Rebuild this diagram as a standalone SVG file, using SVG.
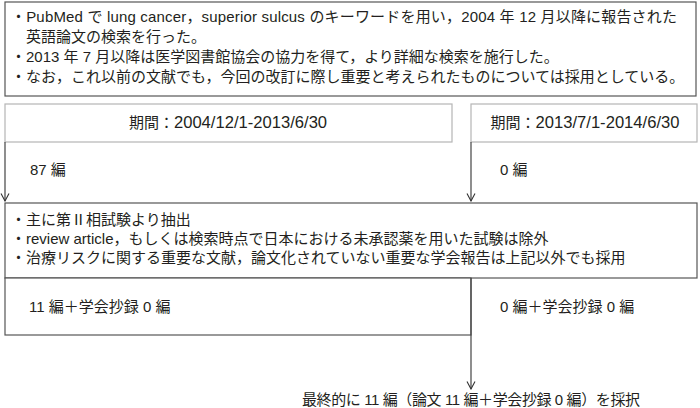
<svg xmlns="http://www.w3.org/2000/svg" width="700" height="408" viewBox="0 0 700 408">
<defs>
<marker id="arr" viewBox="0 0 10 10" refX="9.5" refY="5" markerWidth="10" markerHeight="10" markerUnits="userSpaceOnUse" orient="auto">
<path d="M2,1 L9.5,5 L2,9" fill="none" stroke="#333" stroke-width="1.1"/>
</marker>
<style>
text{font-family:"Liberation Sans","Noto Sans CJK JP",sans-serif;font-size:15px;fill:#231f20}
.box{fill:#fff;stroke:#555;stroke-width:1.2}
.lbox{fill:#fff;stroke:#b5b5b5;stroke-width:1.2}
.con{fill:none;stroke:#444;stroke-width:1.2}
.mid{text-anchor:middle}
.big{font-size:16.6px}
</style>
</defs>
<rect width="700" height="408" fill="#fff"/>
<g id="search">
<rect class="box" x="5" y="2" width="691" height="94"/>
<text x="11" y="22" textLength="666" lengthAdjust="spacing">・PubMed で lung cancer，superior sulcus のキーワードを用い，2004 年 12 月以降に報告された</text>
<text x="26" y="42">英語論文の検索を行った。</text>
<text x="11" y="62">・2013 年 7 月以降は医学図書館協会の協力を得て，より詳細な検索を施行した。</text>
<text x="11" y="82">・なお，これ以前の文献でも，今回の改訂に際し重要と考えられたものについては採用としている。</text>
</g>
<g id="period1">
<rect class="lbox" x="5" y="104" width="447" height="38"/>
<text class="mid" x="228" y="128">期間：<tspan class="big">2004/12/1-2013/6/30</tspan></text>
</g>
<g id="period2">
<rect class="lbox" x="471" y="104" width="226" height="38"/>
<text class="mid" x="585" y="128">期間：<tspan class="big">2013/7/1-2014/6/30</tspan></text>
</g>
<g id="count1"><text x="30" y="175">87 編</text></g>
<g id="count2"><text x="500" y="175">0 編</text></g>
<g id="criteria">
<rect class="box" x="5" y="203" width="692" height="75"/>
<text x="11" y="225">・主に第Ⅱ相試験より抽出</text>
<text x="11" y="244">・review article，もしくは検索時点で日本における未承認薬を用いた試験は除外</text>
<text x="11" y="263">・治療リスクに関する重要な文献，論文化されていない重要な学会報告は上記以外でも採用</text>
</g>
<g id="result1">
<rect class="box" x="5" y="278" width="466" height="57"/>
<text x="29" y="312">11 編＋学会抄録 0 編</text>
</g>
<g id="result2"><text x="500" y="312">0 編＋学会抄録 0 編</text></g>
<g id="final"><text class="mid" x="471" y="405" textLength="338" lengthAdjust="spacing">最終的に 11 編（論文 11 編＋学会抄録 0 編）を採択</text></g>
<g id="connectors">
<path class="con" d="M5,142 V201" marker-end="url(#arr)"/>
<path class="con" d="M471,142 V201" marker-end="url(#arr)"/>
<path class="con" d="M471,278 V389" marker-end="url(#arr)"/>
</g>
</svg>
